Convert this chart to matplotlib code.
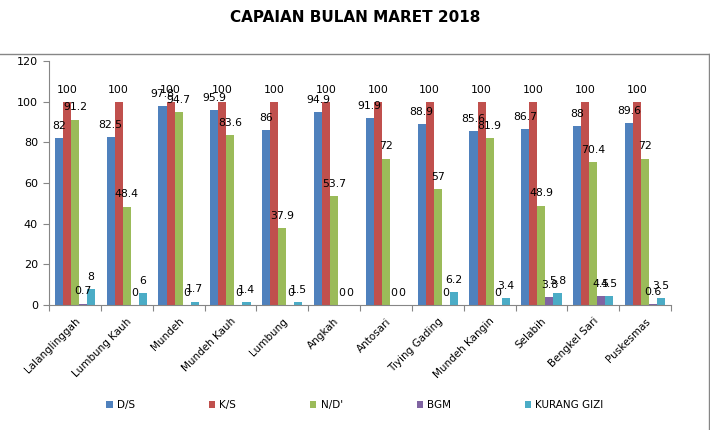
import numpy as np
from matplotlib import pyplot as plt
from matplotlib.lines import Line2D

# data
desa = ["Lalanglinggah", "Lumbung Kauh", "Mundeh", "Mundeh Kauh", "Lumbung",
        "Angkah", "Antosari", "Tiying Gading", "Mundeh Kangin", "Selabih",
        "Bengkel Sari", "Puskesmas"]
ds = [82, 82.5, 97.8, 95.9, 86, 94.9, 91.9, 88.9, 85.6, 86.7, 88, 89.6]
ks = [100, 100, 100, 100, 100, 100, 100, 100, 100, 100, 100, 100]
nd = [91.2, 48.4, 94.7, 83.6, 37.9, 53.7, 72, 57, 81.9, 48.9, 70.4, 72]
bgm = [0.7, 0, 0, 0, 0, 0, 0, 0, 0, 3.8, 4.5, 0.6]
kurang_gizi = [8, 6, 1.7, 1.4, 1.5, 0, 0, 6.2, 3.4, 5.8, 4.5, 3.5]

series = [("D/S", ds, "#4F81BD"), ("K/S", ks, "#C0504D"), ("N/D'", nd, "#9BBB59"),
          ("BGM", bgm, "#8064A2"), ("KURANG GIZI", kurang_gizi, "#4BACC6")]

fig = plt.figure(figsize=(7.1, 4.3), dpi=100)
ax = fig.add_axes([49/710, 1 - 305/430, (671-49)/710, 244/430])

x = np.arange(len(desa))
w = 0.155
for i, (name, vals, col) in enumerate(series):
    pos = x + (i - 2) * w
    ax.bar(pos, vals, w, color=col, label=name, linewidth=0)
    for p, v in zip(pos, vals):
        ax.text(p, v + 3.5, f"{v:g}", ha="center", va="bottom", fontsize=7.8, color="black")

ax.set_xlim(-0.5, len(desa) - 0.5)
ax.set_ylim(0, 120)
ax.set_yticks(range(0, 121, 20))
ax.tick_params(axis="y", labelsize=8, length=4, color="#868686", pad=4)
ax.set_xticks(np.arange(-0.5, len(desa) + 0.5, 1))
ax.set_xticklabels([])
ax.set_xticks(x, minor=True)
ax.set_xticklabels(desa, minor=True, rotation=45, ha="right", rotation_mode="anchor",
                   fontsize=7.5)
ax.tick_params(axis="x", which="major", length=4, color="#868686")
ax.tick_params(axis="x", which="minor", length=0, pad=8)
ax.spines["top"].set_visible(False)
ax.spines["right"].set_visible(False)
ax.spines["left"].set_color("#868686")
ax.spines["bottom"].set_color("#868686")

fig.text(0.5, 1 - 18/430, "CAPAIAN BULAN MARET 2018", ha="center", va="center",
         fontsize=11, fontweight="bold")

# legend
h, l = ax.get_legend_handles_labels()
fig.legend(h, l, loc="center", bbox_to_anchor=(0.5, 1 - 405/430), ncol=5,
           frameon=False, fontsize=7.5, handlelength=0.6, handleheight=0.6,
           handletextpad=0.4, columnspacing=7.1)

# plot-area frame lines (top and right)
fig.add_artist(Line2D([0, 709/710], [1 - 54/430, 1 - 54/430], transform=fig.transFigure,
                      color="#868686", linewidth=1))
fig.add_artist(Line2D([709/710, 709/710], [0, 1 - 54/430], transform=fig.transFigure,
                      color="#868686", linewidth=1))

fig.savefig("out.png", dpi=100)
